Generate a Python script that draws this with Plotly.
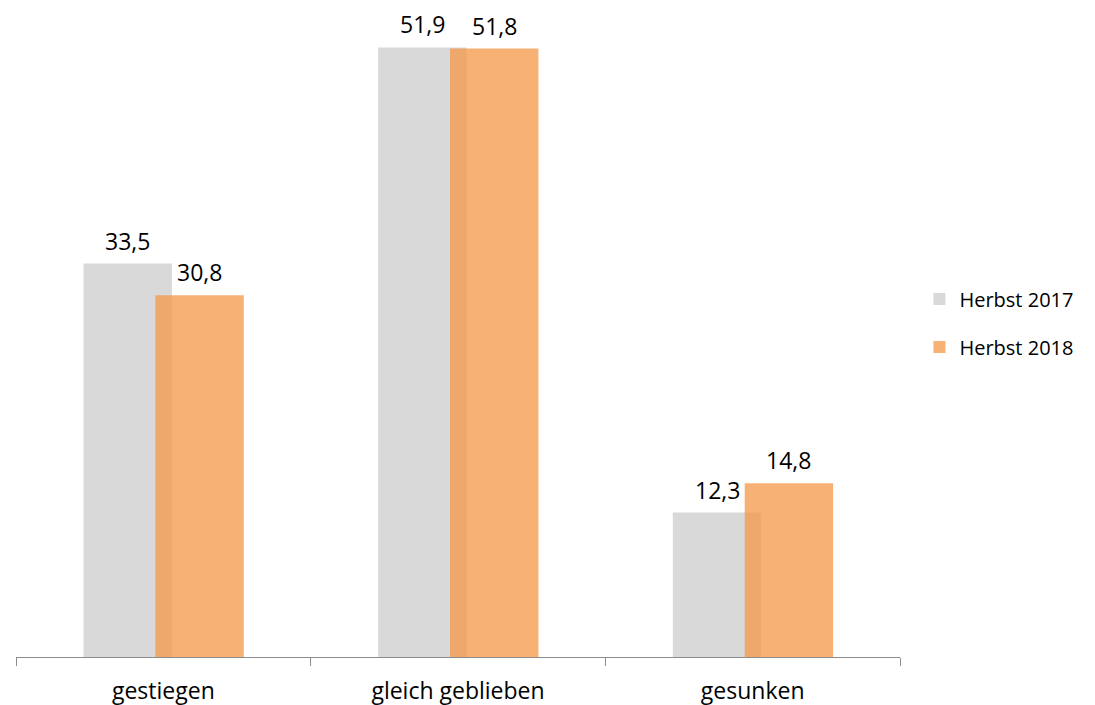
import plotly.graph_objects as go

categories = ["gestiegen", "gleich geblieben", "gesunken"]
herbst_2017 = [33.5, 51.9, 12.3]
herbst_2018 = [30.8, 51.8, 14.8]

FONT = "Open Sans"
BAR_W = 0.30
OFF_2017 = -0.271
OFF_2018 = -0.027

fig = go.Figure()
fig.add_trace(go.Bar(
    name="Herbst 2017", x=categories, y=herbst_2017,
    width=BAR_W, offset=OFF_2017,
    marker=dict(color="#d9d9d9", line=dict(width=0)),
    legendgroup="a",
))
fig.add_trace(go.Bar(
    name="Herbst 2018", x=categories, y=herbst_2018,
    width=BAR_W, offset=OFF_2018,
    marker=dict(color="rgba(244,151,70,0.75)", line=dict(width=0)),
    legendgroup="b",
))

for series, off in ((herbst_2017, OFF_2017), (herbst_2018, OFF_2018)):
    for i, v in enumerate(series):
        fig.add_annotation(
            x=i + off + BAR_W / 2, y=v, xref="x", yref="y",
            text=f"{v:.1f}".replace(".", ","), showarrow=False,
            yanchor="middle", yshift=23, borderpad=0,
            font=dict(family=FONT, size=23, color="black"),
        )

fig.update_layout(
    width=1087, height=705,
    margin=dict(l=8, r=195, t=3, b=56, autoexpand=False),
    barmode="overlay",
    separators=",.",
    paper_bgcolor="white", plot_bgcolor="white",
    font=dict(family=FONT, size=20, color="black"),
    showlegend=True,
    legend=dict(x=1.022, y=0.517, xanchor="left", yanchor="middle",
                font=dict(family=FONT, size=20, color="black"),
                tracegroupgap=19, bgcolor="rgba(0,0,0,0)"),
)
fig.update_xaxes(
    showline=True, linecolor="#8c8c8c", linewidth=1,
    ticks="outside", tickson="boundaries", ticklen=8, tickcolor="#8c8c8c",
    showgrid=False, tickfont=dict(family=FONT, size=23, color="black"),
    ticklabelstandoff=13,
)
fig.update_yaxes(range=[0, 55], visible=False, showgrid=False, zeroline=False)

fig.write_html("out.html")
